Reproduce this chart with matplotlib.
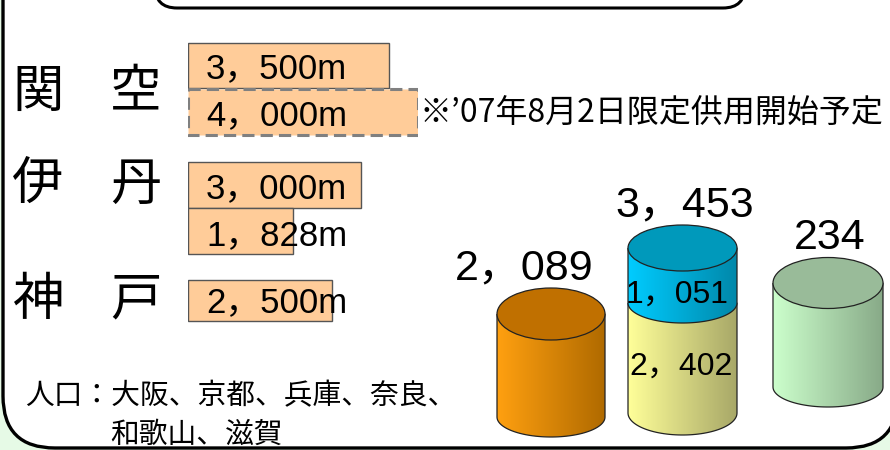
import numpy as np
import matplotlib.pyplot as plt
from matplotlib.patches import FancyBboxPatch, Ellipse, PathPatch
from matplotlib.path import Path
from matplotlib.colors import LinearSegmentedColormap

plt.rcParams['font.family'] = ['Noto Sans CJK JP', 'DejaVu Sans']
NUM_FONT = ['Liberation Sans', 'Noto Sans CJK JP']

# runway data
airports = [['関', '空'], ['伊', '丹'], ['神', '戸']]
runway_len = [3500, 4000, 3000, 1828, 2500]
runway_labels = ['3，500m', '4，000m', '3，000m', '1，828m', '2，500m']
runway_planned = [False, True, False, False, False]
note = '※’07年8月2日限定供用開始予定'

# population data (cylinders)
pop_total = ['2，089', '3，453', '234']
pop_parts = ['1，051', '2，402']
pop_text1 = '人口：大阪、京都、兵庫、奈良、'
pop_text2 = '和歌山、滋賀'

W, H = 890, 450
fig = plt.figure(figsize=(8.9, 4.5), dpi=100)
fig.patch.set_facecolor('#e6fae6')


def pix_axes(rect=(0, 0, 1, 1)):
    a = fig.add_axes(rect)
    a.set_xlim(0, W)
    a.set_ylim(H, 0)
    a.axis('off')
    return a


# background: outer frame + title box
bg = pix_axes()
bg.add_patch(FancyBboxPatch((3, -80), 895, 528, boxstyle='round,pad=0,rounding_size=52',
                            fc='white', ec='black', lw=2.4))
bg.add_patch(FancyBboxPatch((155, -60), 590, 68, boxstyle='round,pad=0,rounding_size=22',
                            fc='white', ec='black', lw=2.2))

# runway bars, x in metres
rax = fig.add_axes([188 / W, 0, 230 / W, 1])
rax.set_xlim(0, 4000)
rax.set_ylim(H, 0)
rax.axis('off')
bar_y = [65.5, 112, 185, 231, 300.5]
bar_h = [45, 46, 46, 46, 41]
for L, y, h, planned in zip(runway_len, bar_y, bar_h, runway_planned):
    if planned:
        rax.barh(y, L, height=h, color='#ffcc99', edgecolor='#808080', lw=2.2, ls=(0, (4, 2)))
    else:
        rax.barh(y, L, height=h, color='#ffcc99', edgecolor='#555555', lw=1)

# foreground: texts and cylinders
ax = pix_axes()

name_y = [92, 185, 300]
for (c1, c2), y in zip(airports, name_y):
    ax.text(38, y, c1, fontsize=37, ha='center', va='center')
    ax.text(136, y, c2, fontsize=37, ha='center', va='center')

text_y = [69, 116, 189, 236, 303]
for lab, y in zip(runway_labels, text_y):
    ax.text(206, y, lab, fontsize=25, family=NUM_FONT, ha='left', va='center')

ax.text(420, 114, note, fontsize=23, ha='left', va='center')


def cyl_side(ax, cx, a, y_top, y_bot, b_bot, c_left, c_right, z):
    t = np.linspace(0, np.pi, 60)
    verts = [(cx - a, y_top), (cx + a, y_top), (cx + a, y_bot)]
    verts += list(zip(cx + a * np.cos(t), y_bot + b_bot * np.sin(t)))
    verts += [(cx - a, y_top)]
    patch = PathPatch(Path(verts), fc='none', ec='#222222', lw=0.9, zorder=z + 0.5)
    ax.add_patch(patch)
    cmap = LinearSegmentedColormap.from_list('c', [c_left, c_right])
    grad = np.linspace(0, 1, 200).reshape(1, -1)
    im = ax.imshow(grad, cmap=cmap, aspect='auto', interpolation='bilinear',
                   extent=(cx - a, cx + a, y_bot + b_bot, y_top), zorder=z)
    im.set_clip_path(patch)


def cyl_top(ax, cx, a, y, b, col, z):
    ax.add_patch(Ellipse((cx, y), 2 * a, 2 * b, fc=col, ec='#222222', lw=0.9, zorder=z))


# orange cylinder
cyl_side(ax, 551, 54, 314, 417, 20, '#ffa010', '#b06a00', 2)
cyl_top(ax, 551, 54, 314, 26, '#c07000', 4)
# stacked cylinder
cyl_side(ax, 682.5, 54.5, 303, 413, 22, '#ffff99', '#a8a868', 2)
cyl_side(ax, 682.5, 54.5, 248, 303, 20, '#00ccff', '#0088aa', 3)
cyl_top(ax, 682.5, 54.5, 248, 23, '#0099bb', 4)
# green cylinder
cyl_side(ax, 828, 55, 283, 387, 20, '#ccffcc', '#88aa88', 2)
cyl_top(ax, 828, 55, 283, 25.5, '#99bb99', 4)

ax.set_xlim(0, W)
ax.set_ylim(H, 0)

ax.text(524, 268, pop_total[0], fontsize=31, family=NUM_FONT, ha='center', va='center', zorder=6)
ax.text(685, 205, pop_total[1], fontsize=31, family=NUM_FONT, ha='center', va='center', zorder=6)
ax.text(830, 238, pop_total[2], fontsize=31, family=NUM_FONT, ha='center', va='center', zorder=6)
ax.text(677, 295, pop_parts[0], fontsize=23, family=NUM_FONT, ha='center', va='center', zorder=6)
ax.text(681, 367, pop_parts[1], fontsize=23, family=NUM_FONT, ha='center', va='center', zorder=6)

ax.text(25, 396, pop_text1, fontsize=20.7, ha='left', va='center')
ax.text(110, 435, pop_text2, fontsize=20.7, ha='left', va='center')

fig.savefig('out.png', dpi=100, facecolor=fig.get_facecolor())
